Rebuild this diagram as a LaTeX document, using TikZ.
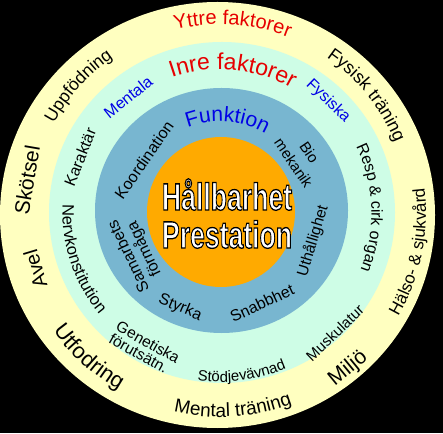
\documentclass[tikz,border=0pt]{standalone}
\usepackage{fontspec}
\usepackage{graphicx}
\setmainfont{Liberation Sans}
\usetikzlibrary{calc,decorations.text}
\definecolor{cyel}{RGB}{255,255,192}
\definecolor{cgrn}{RGB}{206,253,230}
\definecolor{cteal}{RGB}{120,182,208}
\definecolor{corg}{RGB}{255,170,0}
\definecolor{cred}{RGB}{230,0,0}
\definecolor{cblu}{RGB}{0,0,230}
\newcommand{\fs}[1]{\fontsize{#1}{#1}\selectfont}
% curved text, tops outward (clockwise path)
\newcommand{\arcCW}[6]{%
  \pgfmathsetmacro{\myA}{#1+#3}\pgfmathsetmacro{\myB}{#1-#3}%
  \path[decorate, decoration={text along path, text align=center, text color=#5, text={|\fs{#4}|#6}}]
    ($(C)+(\myA:#2)$) arc[start angle=\myA, end angle=\myB, radius=#2];}
% curved text, tops inward (counter-clockwise path)
\newcommand{\arcCCW}[6]{%
  \pgfmathsetmacro{\myA}{#1-#3}\pgfmathsetmacro{\myB}{#1+#3}%
  \path[decorate, decoration={text along path, text align=center, text color=#5, text={|\fs{#4}|#6}}]
    ($(C)+(\myA:#2)$) arc[start angle=\myA, end angle=\myB, radius=#2];}
% white text with a black outline (PDF text render mode 2)
\newcommand{\outl}[1]{\special{pdf:literal direct 0 0 0 RG 1.3 w 2 Tr}#1\special{pdf:literal direct 0 Tr}}
\begin{document}
\begin{tikzpicture}[x=1pt,y=1pt,
  lbl/.style={inner sep=0pt, text=black},
  title/.style={anchor=base, inner sep=0pt, text=white},
  ]
\useasboundingbox (0,0) rectangle (443,433);
\fill[black] (0,0) rectangle (443,433);
\fill[cyel] (217.5,218) ellipse [x radius=217.5, y radius=213];
\fill[cgrn] (222,220.5) ellipse [x radius=173, y radius=170.5];
\fill[cteal] (221.5,222.5) ellipse [x radius=126.5, y radius=122.5];
\fill[corg] (221,221) ellipse [x radius=74, y radius=75];
\coordinate (C) at (220,220);

% centre
\node[title] (hall) at (227,223) {\outl{\scalebox{0.7}[1]{\fs{38}\bfseries Hållbarhet}}};
\node[title] (prest) at (227,185) {\outl{\scalebox{0.7}[1]{\fs{38}\bfseries Prestation}}};

% outer ring
\arcCW{86.2}{188.5}{60}{20}{cred}{Yttre faktorer}
\arcCW{38.7}{188.5}{45}{18}{black}{Fysisk träning}
\arcCW{138.1}{188.7}{45}{17.5}{black}{Uppfödning}
\arcCCW{-11.5}{206}{45}{17}{black}{Hälso- {\&} sjukvård}
\arcCCW{-86.2}{204}{45}{19}{black}{Mental träning}
\arcCCW{-132.3}{204}{40}{22}{black}{Utfodring}
\node[lbl, rotate=39.4, font=\fs{21}] (miljo) at ($(C)+(-50.6:202)$) {Miljö};
\node[lbl, rotate=106.8, font=\fs{20}] (avel) at ($(C)+(196.8:193)$) {Avel};
\node[lbl, rotate=80.3, font=\fs{21}] (skotsel) at ($(C)+(170.3:195.8)$) {Skötsel};

% middle ring
\arcCW{84.8}{143.6}{60}{23}{cred}{Inre faktorer}
\arcCW{2}{151.5}{50}{16}{black}{Resp {\&} cirk organ}
\arcCCW{198.5}{157.5}{45}{16.5}{black}{Nervkonstitution}
\arcCCW{-82.3}{169}{40}{15}{black}{Stödjevävnad}
\node[lbl, rotate=-44, font=\fs{16}, text=cblu] (fysiska) at ($(C)+(46:155.6)$) {Fysiska};
\node[lbl, rotate=38.4, font=\fs{16}, text=cblu] (mentala) at ($(C)+(128.4:148)$) {Mentala};
\node[lbl, rotate=68.2, font=\fs{16}] (karaktar) at ($(C)+(158.2:150.8)$) {Karaktär};
\node[lbl, rotate=-29.1, font=\fs{15.5}, align=left] (genet) at ($(C)+(240.9:155)$) {Genetiska\\[-1pt]förutsätn.};
\node[lbl, rotate=43.8, font=\fs{15}] (musk) at ($(C)+(-46.2:166)$) {Muskulatur};

% inner ring
\arcCW{85.4}{91.3}{60}{21}{cblu}{Funktion}
\node[lbl, rotate=55.1, font=\fs{16}] (koord) at ($(C)+(145.1:92.7)$) {Koordination};
\node[lbl, rotate=-55.75, font=\fs{15}, align=center] (bio) at ($(C)+(34.25:98.6)$) {Bio\\[4pt]mekanik};
\node[lbl, rotate=73.2, font=\fs{15.5}] (uth) at ($(C)+(-16.8:97)$) {Uthållighet};
\node[lbl, rotate=115.5, font=\fs{16}, align=center] (samarb) at ($(C)+(205.5:92)$) {Samarbets\\[1pt]förmåga};
\node[lbl, rotate=-22.8, font=\fs{16}] (styrka) at ($(C)+(247.2:103)$) {Styrka};
\node[lbl, rotate=25, font=\fs{16}] (snabb) at ($(C)+(-65:99.3)$) {Snabbhet};
\end{tikzpicture}
\end{document}
